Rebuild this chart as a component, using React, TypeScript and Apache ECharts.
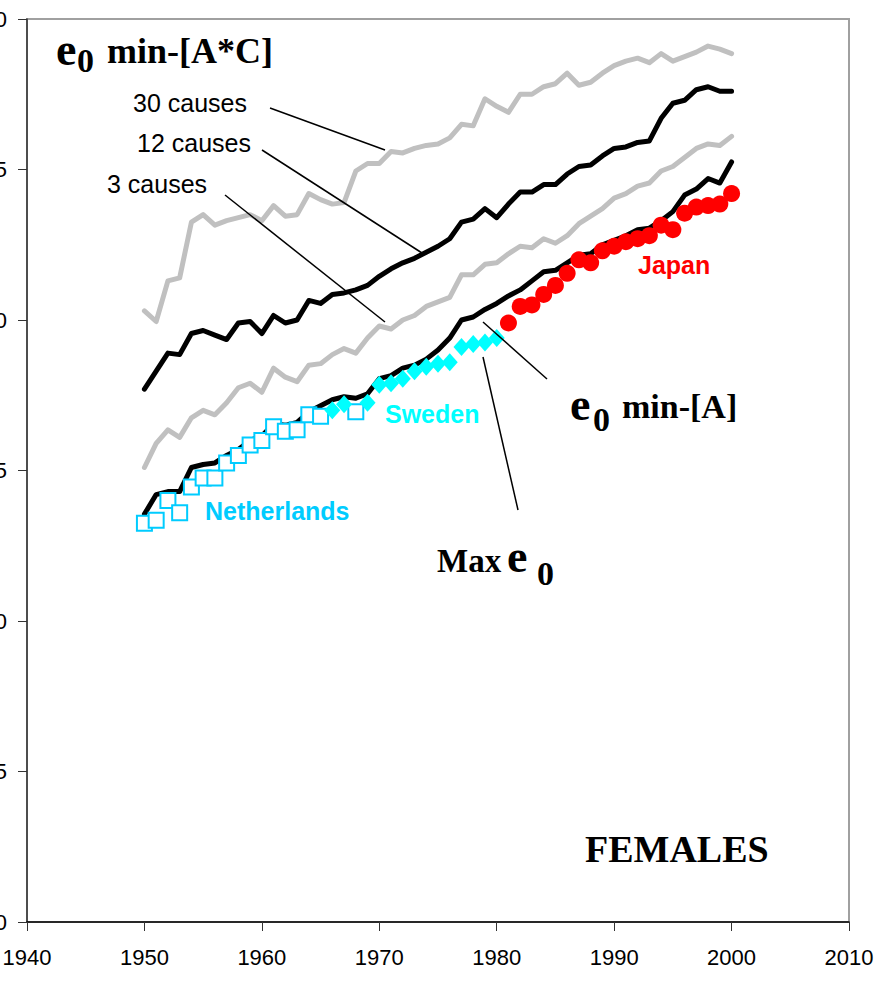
import React, { useEffect, useRef } from "react";
import * as echarts from "echarts";

const YEARS: number[] = Array.from({ length: 51 }, (_, i) => 1950 + i);

const CAUSES_30: number[] = [
  80.3, 79.95, 81.3, 81.4, 83.25, 83.5, 83.15, 83.3, 83.4, 83.5,
  83.3, 83.8, 83.45, 83.5, 84.2, 84.0, 83.85, 83.9, 84.95, 85.2,
  85.2, 85.6, 85.55, 85.7, 85.8, 85.85, 86.05, 86.5, 86.45, 87.35,
  87.1, 86.9, 87.5, 87.5, 87.75, 87.85, 88.2, 87.8, 87.9, 88.2,
  88.45, 88.6, 88.7, 88.55, 88.85, 88.6, 88.75, 88.9, 89.1, 89.0,
  88.85,
];

const CAUSES_12: number[] = [
  77.7, 78.3, 78.9, 78.85, 79.55, 79.65, 79.5, 79.35, 79.9, 79.95,
  79.55, 80.15, 79.9, 80.0, 80.65, 80.55, 80.85, 80.9, 81.0, 81.15,
  81.45, 81.7, 81.9, 82.05, 82.25, 82.45, 82.7, 83.25, 83.35, 83.7,
  83.4, 83.85, 84.25, 84.25, 84.5, 84.5, 84.85, 85.1, 85.15, 85.45,
  85.7, 85.75, 85.9, 85.95, 86.7, 87.2, 87.3, 87.65, 87.75, 87.6,
  87.6,
];

const CAUSES_3: number[] = [
  75.1, 75.9, 76.35, 76.1, 76.75, 77.0, 76.85, 77.25, 77.75, 77.9,
  77.6, 78.4, 78.1, 77.95, 78.5, 78.55, 78.85, 79.05, 78.9, 79.4,
  79.8, 79.7, 80.0, 80.15, 80.45, 80.6, 80.75, 81.5, 81.5, 81.85,
  81.9, 82.2, 82.45, 82.4, 82.7, 82.55, 82.8, 83.2, 83.45, 83.7,
  84.05, 84.2, 84.45, 84.55, 84.95, 85.1, 85.4, 85.7, 85.85, 85.8,
  86.1,
];

const MIN_A: number[] = [
  73.55, 74.2, 74.3, 74.3, 75.1, 75.2, 75.25, 75.5, 75.7, 76.0,
  76.15, 76.55, 76.5, 76.6, 76.95, 77.15, 77.35, 77.45, 77.4, 77.55,
  78.05, 78.15, 78.4, 78.5, 78.7, 79.0, 79.4, 80.0, 80.1, 80.35,
  80.55, 80.8, 81.0, 81.3, 81.6, 81.65, 81.9, 82.15, 82.2, 82.5,
  82.65, 82.8, 83.0, 83.05, 83.3, 83.6, 84.15, 84.35, 84.7, 84.55,
  85.25,
];

const NL_YEARS: number[] = [
  1950, 1951, 1952, 1953, 1954, 1955, 1956, 1957, 1958, 1959,
  1960, 1961, 1962, 1963, 1964, 1965, 1968,
];
const NL_E0: number[] = [
  73.25, 73.35, 74.0, 73.6, 74.45, 74.75, 74.75, 75.25, 75.5, 75.85,
  76.0, 76.45, 76.3, 76.35, 76.85, 76.8, 76.95,
];

const SE_YEARS: number[] = [
  1966, 1967, 1969, 1970, 1971, 1972, 1973, 1974, 1975, 1976,
  1977, 1978, 1979, 1980,
];
const SE_E0: number[] = [
  77.0, 77.2, 77.25, 77.85, 77.9, 78.05, 78.3, 78.45, 78.55, 78.6,
  79.1, 79.2, 79.25, 79.4,
];

const JP_YEARS: number[] = [
  1981, 1982, 1983, 1984, 1985, 1986, 1987, 1988, 1989, 1990,
  1991, 1992, 1993, 1994, 1995, 1996, 1997, 1998, 1999, 2000,
];
const JP_E0: number[] = [
  79.9, 80.45, 80.5, 80.85, 81.15, 81.55, 82.0, 81.9, 82.3, 82.45,
  82.6, 82.7, 82.8, 83.15, 83.0, 83.55, 83.75, 83.8, 83.85, 84.2,
];

const SERIF = '"Liberation Serif", "Times New Roman", serif';
const SANS = '"Liberation Sans", Arial, sans-serif';

const pair = (xs: number[], ys: number[]) => xs.map((x, i) => [x, ys[i]]);

function txt(
  x: number,
  y: number,
  text: string,
  size: number,
  family: string,
  fill = "#000",
  weight: string = "normal"
) {
  return {
    type: "text",
    x,
    y,
    z: 100,
    style: {
      text,
      fontSize: size,
      fontFamily: family,
      fontWeight: weight,
      fill,
      align: "left",
      verticalAlign: "middle",
    },
  };
}

function leader(x1: number, y1: number, x2: number, y2: number) {
  return {
    type: "line",
    z: 90,
    shape: { x1, y1, x2, y2 },
    style: { stroke: "#000", lineWidth: 1.5 },
  };
}

export default function App() {
  const ref = useRef<HTMLDivElement>(null);

  useEffect(() => {
    if (!ref.current) return;
    const chart = echarts.init(ref.current, null, { renderer: "svg" });

    const lineSeries = (name: string, vals: number[], color: string) => ({
      name,
      type: "line",
      data: pair(YEARS, vals),
      showSymbol: false,
      symbol: "none",
      z: 2,
      lineStyle: { color, width: 5, cap: "round", join: "round" },
    });

    const option: any = {
      animation: false,
      backgroundColor: "#fff",
      grid: {
        left: 27,
        top: 19,
        right: 31,
        bottom: 59,
        containLabel: false,
        outerBoundsMode: "none",
        show: true,
        borderColor: "#a0a0a0",
        borderWidth: 2,
        backgroundColor: "transparent",
      },
      xAxis: {
        type: "value",
        min: 1940,
        max: 2010,
        interval: 10,
        axisLine: { show: true, lineStyle: { color: "#000", width: 1.5 } },
        axisTick: { show: true, inside: false, length: 9, lineStyle: { color: "#333", width: 1 } },
        axisLabel: {
          color: "#000",
          fontSize: 22,
          fontFamily: SANS,
          margin: 24,
          showMinLabel: true,
          showMaxLabel: true,
          formatter: (v: number) => String(v),
        },
        splitLine: { show: false },
      },
      yAxis: {
        type: "value",
        min: 60,
        max: 90,
        interval: 5,
        axisLine: { show: true, lineStyle: { color: "#333", width: 1.5 } },
        axisTick: { show: true, inside: false, length: 9, lineStyle: { color: "#333", width: 1 } },
        axisLabel: {
          color: "#000",
          fontSize: 22,
          fontFamily: SANS,
          margin: 20,
          showMinLabel: true,
          showMaxLabel: true,
          formatter: (v: number) => String(v),
        },
        splitLine: { show: false },
      },
      series: [
        lineSeries("30 causes", CAUSES_30, "#c0c0c0"),
        lineSeries("12 causes", CAUSES_12, "#000000"),
        lineSeries("3 causes", CAUSES_3, "#c0c0c0"),
        lineSeries("e0 min-[A]", MIN_A, "#000000"),
        {
          name: "Netherlands",
          type: "scatter",
          data: pair(NL_YEARS, NL_E0),
          symbol: "rect",
          symbolSize: 15,
          z: 5,
          itemStyle: { color: "#ffffff", borderColor: "#00ccff", borderWidth: 2, opacity: 1 },
        },
        {
          name: "Sweden",
          type: "scatter",
          data: pair(SE_YEARS, SE_E0),
          symbol: "diamond",
          symbolSize: [16, 18],
          z: 5,
          itemStyle: { color: "#00ffff", opacity: 1 },
        },
        {
          name: "Japan",
          type: "scatter",
          data: pair(JP_YEARS, JP_E0),
          symbol: "circle",
          symbolSize: 17,
          z: 5,
          itemStyle: { color: "#ff0000", opacity: 1 },
        },
      ],
      graphic: [
        // top label e0 min-[A*C]
        txt(56, 49, "e", 46, SERIF, "#000", "bold"),
        txt(77, 60, "0", 34, SERIF, "#000", "bold"),
        txt(107, 51, "min-[A*C]", 36, SERIF, "#000", "bold"),
        // cause labels
        txt(133, 103, "30 causes", 25, SANS),
        txt(137, 143, "12 causes", 25, SANS),
        txt(107, 184, "3 causes", 25, SANS),
        leader(270, 108, 385, 150),
        leader(262, 150, 422, 253),
        leader(225, 195, 385, 322),
        // e0 min-[A]
        txt(570, 404, "e", 46, SERIF, "#000", "bold"),
        txt(593, 419, "0", 34, SERIF, "#000", "bold"),
        txt(622, 406, "min-[A]", 34, SERIF, "#000", "bold"),
        leader(483, 322, 547, 379),
        // Max e0
        txt(437, 561, "Max", 33, SERIF, "#000", "bold"),
        txt(507, 556, "e", 46, SERIF, "#000", "bold"),
        txt(537, 573, "0", 34, SERIF, "#000", "bold"),
        leader(483, 357, 518, 510),
        // country labels
        txt(205, 511, "Netherlands", 25, SANS, "#00ccff", "bold"),
        txt(385, 414, "Sweden", 25, SANS, "#00ffff", "bold"),
        txt(638, 265, "Japan", 25, SANS, "#ff0000", "bold"),
        // FEMALES
        txt(585, 849, "FEMALES", 38, SERIF, "#000", "bold"),
      ],
    };

    chart.setOption(option);
    return () => chart.dispose();
  }, []);

  return (
    <div
      ref={ref}
      style={{ position: "absolute", left: 0, top: 0, width: 880, height: 981, background: "#fff" }}
    />
  );
}
